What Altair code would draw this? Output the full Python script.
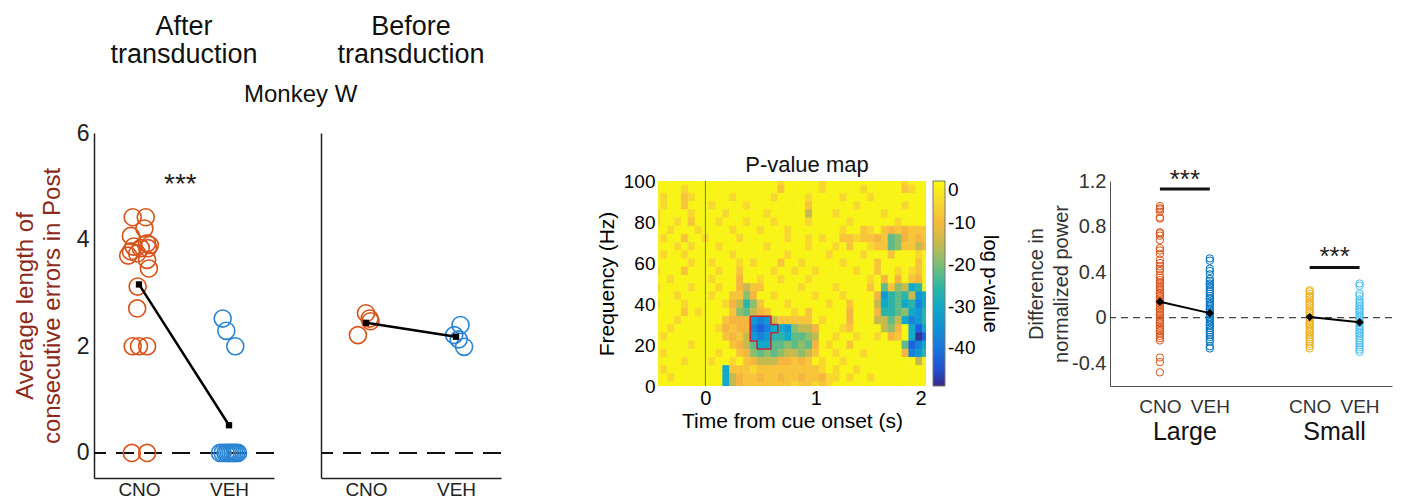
import altair as alt
import pandas as pd

FONT = "Liberation Sans"
ORANGE = "#D95319"
BLUE = "#2A84D2"
DARKRED = "#8C2A1C"

# ---------------- Panel 1 / 2 data (Monkey W) ----------------
after_cno = [4.42, 4.42, 4.21, 4.07, 3.93, 3.90, 3.87, 3.84, 3.84, 3.78, 3.74,
             3.70, 3.62, 3.46, 3.12, 2.71, 2.00, 2.00, 2.00, 0.00, 0.00]
after_cno_jit = [-0.07, 0.075, 0.06, -0.09, 0.09, 0.12, -0.06, 0.02, 0.10, -0.09, -0.02,
                 -0.12, 0.09, 0.11, -0.015, -0.02, -0.07, 0.0, 0.09, -0.08, 0.09]
after_veh = [2.52, 2.29, 2.00, 0, 0, 0, 0, 0, 0, 0, 0, 0, 0]
after_veh_jit = [-0.07, -0.03, 0.07, -0.10, -0.07, -0.04, -0.02, 0.0, 0.02, 0.04, 0.06, 0.08, 0.10]
after_means = [3.16, 0.52]

before_cno = [2.62, 2.52, 2.47, 2.21]
before_cno_jit = [0.0, 0.04, 0.05, -0.09]
before_veh = [2.40, 2.21, 1.99, 2.13]
before_veh_jit = [0.05, -0.02, 0.09, 0.03]
before_means = [2.44, 2.18]

# ---------------- Panel 3 data (P-value map) ----------------
level_codes = ".abcdefghijkl"
level_values = [-1, -5, -8, -11, -15, -19, -22, -26, -30, -34, -38, -43, -48]
heat_rows = [
    ".........." "........a." "....a....." "......a...",   # 100 Hz
    "....a....." "........b." "....a....." "a.....ba..",   # 96
    ".a..ba...." ".a.....a.." "..a....a.." ".a........",   # 92
    ".a..b...a." "...a......" "..b......a" "......a...",   # 88
    "a....a...." "a.....a..." "..d...a..." "...a......",   # 84
    "a..a.b...a" "...a...a.." "..a.....a." ".....a....",   # 80
    "..a...a..." ".a...a...a" ".......a.." "ba.bcbcbbb",   # 76
    ".a..b..a.." "..a......a" "..a.a..bba" "bbcbfecbcb",   # 72
    "...a.a...a" "......a..." "..a...a.b." ".abbfebbdc",   # 68
    ".a..a....." ".a.......a" ".....a...." "a...b...a.",   # 64
    ".....a..a." "..a.a...b." ".a.....a.." "..b.....b.",   # 60
    "a...b....a" "..b....a.." "a..a.....a" "..b..a.ab.",   # 56
    "..a.....a." "..c..a..a." "..a......." ".a.c.c.bc.",   # 52
    "a....a...a" "..cdbb...." ".a....a..." ".b.fbedhg.",   # 48
    "...a....a." ".bbec..a.." "...a...a.." "..cigfgdih",   # 44
    "a...a....." "acdgeb...a" ".....a..b." "..dhgfhgjh",   # 40
    "....b.a..." ".befdcb..." "a.b.....c." "..cggfehig",   # 36
    "...a......" "bcccijidbb" "bbb.a...c." "..ddfdhjig",   # 32
    "..a......a" "cbccjkjhhi" "eddc...ab." "...dec.hkh",   # 28
    ".a........" "bcbdijiggh" "ffed..a..a" "..a.cb.hlk",   # 24
    ".....a...." ".bcdfhhffe" "fefc.a..b." "......fkjh",   # 20
    ".a.......a" "..bcefefed" "dedb..a..." "a.....cjig",   # 16
    "....a...a." ".a.bcdddcc" "bcb.a..a.." "........d.",   # 12
    ".a........" "hbbbabbbbb" "bbbba.a..a" "..........",   # 8
    "..a......." "hdcbbcbbcb" "bcbbcaa.a." ".a........",   # 4
    ".........." "hdcbbbbbbb" "abbaba...." "..........",   # 0
]
time_bin = 0.0625
time_first_edge = -0.46875
freq_bin = 4
cluster_t = [0.40625, 0.59375, 0.59375, 0.65625, 0.65625, 0.59375, 0.59375, 0.46875, 0.46875, 0.40625, 0.40625]
cluster_f = [34, 34, 30, 30, 26, 26, 18, 18, 22, 22, 34]
parula_stops = [-49, -44, -38, -31, -25, -19.5, -15, -11, -7, -3, 0]
parula_colors = ["#352a87", "#1f5ae0", "#1682da", "#0ba6cf", "#30b7a2", "#85bf70",
                 "#c5ba4e", "#f5b53e", "#f9c937", "#f6e626", "#f9fb0e"]

# ---------------- Panel 4 data ----------------
large_cno = [0.98, 0.96, 0.95, 0.93, 0.88, 0.87, 0.75, 0.74, 0.72, 0.68, 0.61, 0.59, 0.56,
             0.51, 0.48, 0.45, 0.43, 0.41, 0.37, 0.35, 0.33, 0.31, 0.30, 0.28, 0.26, 0.24,
             0.22, 0.21, 0.19, 0.17, 0.15, 0.14, 0.12, 0.10, 0.08, 0.07, 0.05, 0.03, 0.02,
             0.00, -0.02, -0.04, -0.05, -0.07, -0.09, -0.11, -0.12, -0.14, -0.16, -0.18,
             -0.20, -0.35, -0.39, -0.48]
large_veh = [0.52, 0.50, 0.43, 0.41, 0.38, 0.34, 0.32, 0.30, 0.29, 0.27, 0.25, 0.23, 0.21,
             0.19, 0.17, 0.16, 0.14, 0.12, 0.10, 0.08, 0.07, 0.05, 0.03, 0.01, 0.00, -0.02,
             -0.04, -0.06, -0.07, -0.09, -0.11, -0.13, -0.15, -0.17, -0.19, -0.21, -0.25, -0.27]
small_cno = [0.24, 0.23, 0.21, 0.19, 0.18, 0.16, 0.14, 0.12, 0.11, 0.09, 0.07, 0.05, 0.04,
             0.02, 0.00, -0.01, -0.03, -0.05, -0.06, -0.08, -0.10, -0.12, -0.13, -0.15,
             -0.17, -0.19, -0.21, -0.23, -0.25, -0.27]
small_veh = [0.30, 0.28, 0.21, 0.19, 0.16, 0.14, 0.12, 0.10, 0.08, 0.07, 0.05, 0.03, 0.01,
             0.00, -0.02, -0.04, -0.05, -0.07, -0.09, -0.11, -0.13, -0.14, -0.16, -0.18,
             -0.20, -0.22, -0.24, -0.26, -0.28, -0.30]
p4_positions = [1, 2, 4, 5]
p4_means = [0.14, 0.04, 0.005, -0.04]
p4_groups = ["Large", "Large", "Small", "Small"]
sig_x1 = [1, 4]
sig_x2 = [2, 5]
sig_bar_y = [1.13, 0.44]
sig_star_y = [1.21, 0.53]
group_label_x = [1.5, 4.5]
group_labels = ["Large", "Small"]


# ---------------- Panels 1 and 2 ----------------
def dot_panel(cno, cno_j, veh, veh_j, means, ttl, first, stars=None):
    pts = pd.DataFrame({
        "x": [1 + j for j in cno_j] + [2 + j for j in veh_j],
        "y": cno + veh,
        "c": ["CNO"] * len(cno) + ["VEH"] * len(veh),
    })
    mdf = pd.DataFrame({"x": [1, 2], "y": means})
    xs = alt.Scale(domain=[0.5, 2.5], nice=False, zero=False)
    ys = alt.Scale(domain=[-0.47, 6], nice=False, zero=False)
    xax = alt.Axis(values=[1, 2], labelExpr="datum.value == 1 ? 'CNO' : 'VEH'",
                   ticks=False, title=None, labelFontSize=19, labelPadding=2,
                   domainWidth=1.5, domainColor="#222", labelColor="#222", grid=False)
    yax = alt.Axis(values=[0, 2, 4, 6], format="d", ticks=False, labelFontSize=23,
                   labelPadding=5, domainWidth=1.5, domainColor="#222", labelColor="#222",
                   labelOpacity=1 if first else 0,
                   title=["Average length of", "consecutive errors in Post"] if first else None,
                   titleFontSize=24, titleColor=DARKRED, titleFontWeight="normal",
                   titlePadding=12, titleLineHeight=27, grid=False)
    rule = alt.Chart(mdf).mark_rule(strokeDash=[18, 10], strokeWidth=2, color="#111").encode(
        y=alt.datum(0))
    dots = alt.Chart(pts).mark_point(shape="circle", filled=False, size=290, strokeWidth=1.6,
                                     opacity=1).encode(
        x=alt.X("x:Q", scale=xs, axis=xax),
        y=alt.Y("y:Q", scale=ys, axis=yax),
        color=alt.Color("c:N", scale=alt.Scale(domain=["CNO", "VEH"], range=[ORANGE, BLUE]),
                        legend=None))
    line = alt.Chart(mdf).mark_line(color="black", strokeWidth=2.5).encode(x="x:Q", y="y:Q")
    sq = alt.Chart(mdf).mark_square(size=40, color="black", opacity=1).encode(x="x:Q", y="y:Q")
    layers = [rule, dots, line, sq]
    if stars is not None:
        sdf = pd.DataFrame({"x": [stars[0]], "y": [stars[1]], "t": ["***"]})
        layers.append(alt.Chart(sdf).mark_text(fontSize=28, baseline="middle", color="#222").encode(
            x="x:Q", y="y:Q", text="t:N"))
    return alt.layer(*layers).properties(
        width=180, height=345,
        title=alt.TitleParams(ttl, fontSize=27, lineHeight=28, offset=53, anchor="middle",
                              font=FONT, fontWeight="normal", color="#111"))


p1 = dot_panel(after_cno, after_cno_jit, after_veh, after_veh_jit, after_means,
               ["After", "transduction"], True, stars=(1.46, 5.02))
p2 = dot_panel(before_cno, before_cno_jit, before_veh, before_veh_jit, before_means,
               ["Before", "transduction"], False)

# ---------------- Panel 3: heatmap ----------------
cells = []
for j, row in enumerate(heat_rows):
    row = row.ljust(40, ".")[:40]
    fc = 100 - freq_bin * j
    for k, ch in enumerate(row):
        t0 = time_first_edge + time_bin * k
        cells.append({"t0": t0, "t1": t0 + time_bin,
                      "f0": max(0, fc - freq_bin / 2), "f1": min(100, fc + freq_bin / 2),
                      "v": level_values[level_codes.index(ch)]})
heat_df = pd.DataFrame(cells)
cscale = alt.Scale(domain=parula_stops, range=parula_colors, interpolate="rgb")
hx = alt.Scale(domain=[-0.43, 2.0], nice=False, zero=False)
hy = alt.Scale(domain=[0, 100], nice=False, zero=False)
heat = alt.Chart(heat_df).mark_rect(clip=True, strokeWidth=0.6).encode(
    x=alt.X("t0:Q", scale=hx, axis=alt.Axis(values=[0, 1, 2], format="d", ticks=False, domain=False,
                                           title="Time from cue onset (s)", titleFontSize=21,
                                           labelFontSize=20, labelPadding=2, titlePadding=2,
                                           grid=False)),
    x2="t1:Q",
    y=alt.Y("f0:Q", scale=hy, axis=alt.Axis(values=[0, 20, 40, 60, 80, 100], ticks=False,
                                           domain=False, title="Frequency (Hz)",
                                           titleFontSize=21, labelFontSize=19, labelPadding=3,
                                           titlePadding=6, grid=False)),
    y2="f1:Q",
    color=alt.Color("v:Q", scale=cscale, legend=alt.Legend(
        title="log p-value", titleOrient="right", titleFontSize=20,
        titleFontWeight="normal", titleFont=FONT, titleAnchor="middle",
        direction="vertical", orient="right", gradientLength=205, gradientThickness=12,
        values=[0, -10, -20, -30, -40],
        labelExpr="datum.value == 0 ? '0' : '-' + abs(datum.value)",
        labelFontSize=19, labelFont=FONT, labelOffset=3, offset=7,
        gradientStrokeColor="#777", gradientStrokeWidth=1)),
    stroke=alt.Stroke("v:Q", scale=cscale, legend=None),
)
zero_df = pd.DataFrame({"t": [0]})
zero_line = alt.Chart(zero_df).mark_rule(color="#3B8C8C", strokeWidth=1).encode(x=alt.X("t:Q"))
cluster_df = pd.DataFrame({"t": cluster_t, "f": cluster_f, "o": list(range(len(cluster_t)))})
cluster = alt.Chart(cluster_df).mark_line(color="#C0283C", strokeWidth=1.5).encode(
    x="t:Q", y="f:Q", order="o:Q")
p3 = alt.layer(heat, zero_line, cluster).properties(
    width=268, height=205,
    title=alt.TitleParams("P-value map", fontSize=22, offset=-5, anchor="middle", dx=15,
                          font=FONT, fontWeight="normal", color="#111"))

# ---------------- Panel 4 ----------------
p4_pts = pd.DataFrame({
    "x": [1] * len(large_cno) + [2] * len(large_veh) + [4] * len(small_cno) + [5] * len(small_veh),
    "y": large_cno + large_veh + small_cno + small_veh,
    "c": ["Large CNO"] * len(large_cno) + ["Large VEH"] * len(large_veh)
         + ["Small CNO"] * len(small_cno) + ["Small VEH"] * len(small_veh),
})
p4x = alt.Scale(domain=[0, 5.65], nice=False, zero=False)
p4y = alt.Scale(domain=[-0.6, 1.2], nice=False, zero=False)
num_expr = "datum.value == 0 ? '0' : (datum.value < 0 ? '-' : '') + format(abs(datum.value), '.1f')"
p4_dash = alt.Chart(pd.DataFrame({"y": [0]})).mark_rule(
    strokeDash=[7, 5], strokeWidth=1.2, color="#444").encode(y=alt.datum(0))
p4_dots = alt.Chart(p4_pts).mark_point(shape="circle", filled=False, size=55, strokeWidth=1,
                                       opacity=1).encode(
    x=alt.X("x:Q", scale=p4x, axis=alt.Axis(
        values=[1, 2, 3, 4, 5], ticks=False, title=None, labelFontSize=19, labelPadding=11,
        labelExpr="datum.value == 1 || datum.value == 4 ? 'CNO' : (datum.value == 2 || datum.value == 5 ? 'VEH' : '')",
        domainColor="#555", labelColor="#333", grid=False)),
    y=alt.Y("y:Q", scale=p4y, axis=alt.Axis(
        values=[-0.4, 0, 0.4, 0.8, 1.2], labelExpr=num_expr, ticks=False, labelFontSize=20,
        labelPadding=4, title=["Difference in", "normalized power"], titleFontSize=20,
        titleLineHeight=25, titlePadding=0, domainColor="#555", labelColor="#333",
        titleColor="#333", grid=False)),
    color=alt.Color("c:N", scale=alt.Scale(
        domain=["Large CNO", "Large VEH", "Small CNO", "Small VEH"],
        range=["#D95319", "#0072BD", "#EDB120", "#4DBEEE"]), legend=None))
p4_mdf = pd.DataFrame({"x": p4_positions, "y": p4_means, "g": p4_groups})
p4_line = alt.Chart(p4_mdf).mark_line(color="black", strokeWidth=2).encode(
    x="x:Q", y="y:Q", detail="g:N")
p4_dia = alt.Chart(p4_mdf).mark_point(shape="diamond", filled=True, size=70, color="black",
                                      opacity=1).encode(x="x:Q", y="y:Q")
sig_df = pd.DataFrame({"x1": sig_x1, "x2": sig_x2, "yb": sig_bar_y, "ys": sig_star_y})
sig_bar = alt.Chart(sig_df).mark_rule(strokeWidth=3, color="#111").encode(
    x="x1:Q", x2="x2:Q", y="yb:Q")
sig_star = alt.Chart(sig_df).transform_calculate(xm="(datum.x1 + datum.x2) / 2").mark_text(
    fontSize=26, baseline="middle", color="#222").encode(x="xm:Q", y="ys:Q", text=alt.value("***"))
grp_df = pd.DataFrame({"x": group_label_x, "y": [-1.07, -1.07], "t": group_labels})
grp_txt = alt.Chart(grp_df).mark_text(fontSize=25, baseline="alphabetic", color="#111").encode(
    x="x:Q", y="y:Q", text="t:N")
p4 = alt.layer(p4_dash, p4_dots, p4_line, p4_dia, sig_bar, sig_star, grp_txt).properties(
    width=282, height=205)

# ---------------- layout ----------------
def blank(w, h):
    return alt.Chart(pd.DataFrame({"s": [0]})).mark_point(opacity=0).encode(
        x=alt.X("s:Q", axis=None), y=alt.Y("s:Q", axis=None)).properties(width=w, height=h)


right = alt.vconcat(blank(20, 48), alt.hconcat(p3, p4, spacing=184, bounds="flush"),
                    spacing=0, bounds="flush")

chart = alt.hconcat(p1, p2, blank(63, 10), right, spacing=47, bounds="flush").properties(
    padding={"left": 5, "top": 5, "right": 5, "bottom": 0},
    title=alt.TitleParams("Monkey W", fontSize=24, offset=-94, anchor="start", frame="group",
                          dx=150, font=FONT, fontWeight="normal", color="#111"),
).configure(font=FONT).configure_view(stroke=None).configure_axis(
    labelFont=FONT, titleFont=FONT, titleFontWeight="normal", grid=False
).configure_title(font=FONT, fontWeight="normal")

chart.save("out.html", embed_options={"renderer": "svg", "actions": False})
